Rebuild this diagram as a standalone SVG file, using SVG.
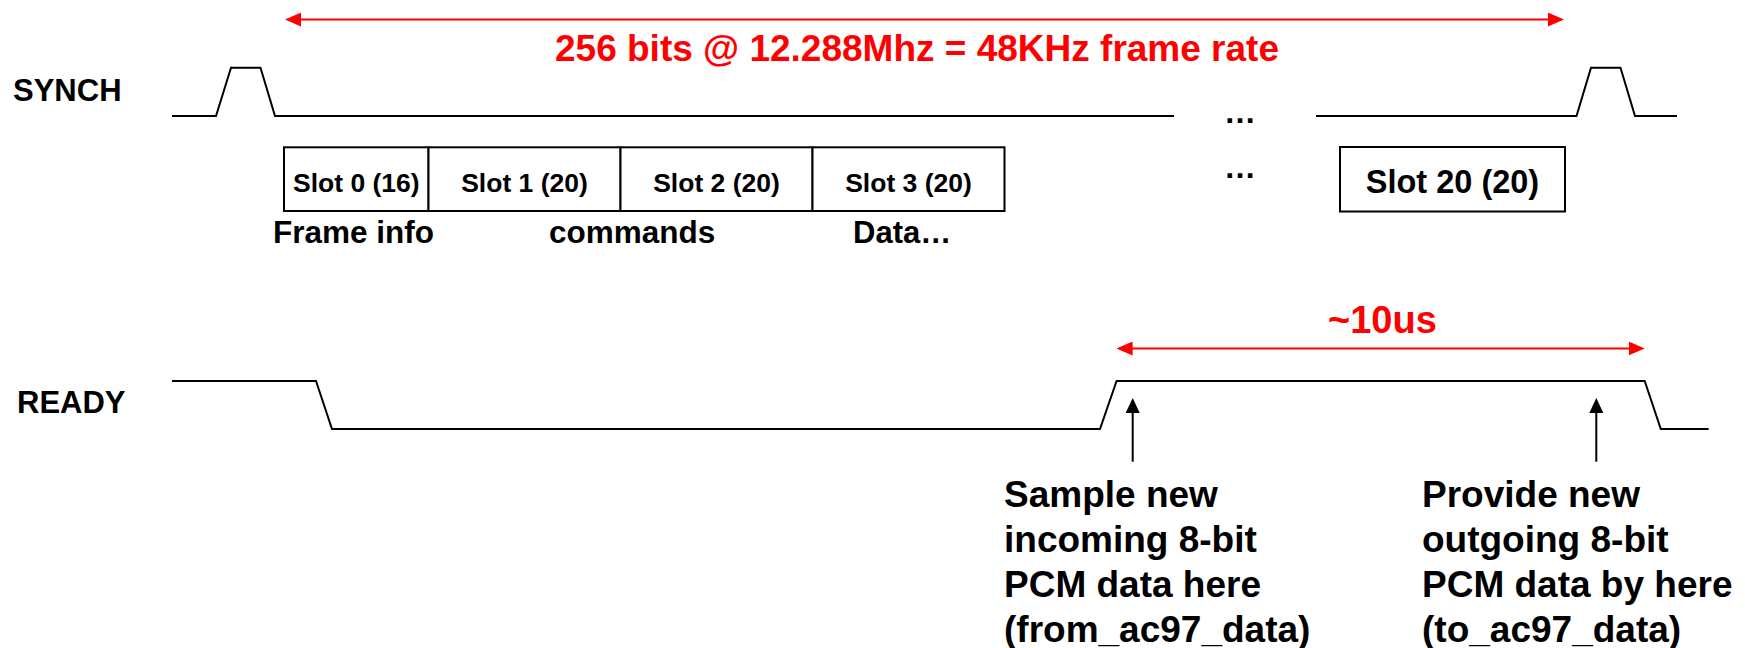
<svg xmlns="http://www.w3.org/2000/svg" width="1745" height="648" viewBox="0 0 1745 648">
<defs>
<marker id="arR" viewBox="0 0 16 14" refX="13" refY="7" markerWidth="16" markerHeight="14" markerUnits="userSpaceOnUse" orient="auto-start-reverse"><path d="M0,0 L16,7 L0,14 z" fill="#ff0000"/></marker>
<marker id="arK" viewBox="0 0 15 14" refX="12" refY="7" markerWidth="15" markerHeight="14" markerUnits="userSpaceOnUse" orient="auto"><path d="M0,0 L15,7 L0,14 z" fill="#000"/></marker>
</defs>
<style>
text{font-family:"Liberation Sans",Arial,Helvetica,sans-serif;font-weight:bold;fill:#000}
.red{fill:#ff0000}
.sig{fill:none;stroke:#000;stroke-width:2;stroke-linejoin:miter}
.box{fill:#fff;stroke:#000;stroke-width:2}
.rarrow{stroke:#ff0000;stroke-width:2;fill:none}
.karrow{stroke:#000;stroke-width:2;fill:none}
.slot{font-size:26.5px;text-anchor:middle}
.lbl{font-size:31px}
.dots{font-size:32px}
.note{font-size:37px}
</style>
<rect x="0" y="0" width="1745" height="648" fill="#fff"/>

<g id="synch-label"><text class="lbl" x="13" y="100.5">SYNCH</text></g>
<g id="ready-label"><text class="lbl" x="17" y="413">READY</text></g>

<g id="synch-signal">
<polyline class="sig" points="172,116 216,116 231,67.7 260.5,67.7 275,116 1174,116"/>
<polyline class="sig" points="1316,116 1576.5,116 1591,67.7 1620.5,67.7 1635,116 1677,116"/>
<text class="dots" x="1224" y="123">…</text>
</g>

<g id="ready-signal">
<polyline class="sig" points="172,381 316,381 332,429 1100,429 1116.6,381 1644.7,381 1660.8,429 1708.6,429"/>
</g>

<g id="slot0"><rect class="box" x="284" y="147.3" width="144.5" height="63.7"/><text class="slot" x="356.3" y="191.5">Slot 0 (16)</text></g>
<g id="slot1"><rect class="box" x="428.5" y="147.3" width="192" height="63.7"/><text class="slot" x="524.5" y="191.5">Slot 1 (20)</text></g>
<g id="slot2"><rect class="box" x="620.5" y="147.3" width="192" height="63.7"/><text class="slot" x="716.5" y="191.5">Slot 2 (20)</text></g>
<g id="slot3"><rect class="box" x="812.5" y="147.3" width="192" height="63.7"/><text class="slot" x="908.5" y="191.5">Slot 3 (20)</text></g>
<g id="slot-gap"><text class="dots" x="1224" y="178">…</text></g>
<g id="slot20"><rect class="box" x="1340" y="147" width="225" height="64.5"/><text class="slot" x="1452.5" y="192.5" style="font-size:32.5px">Slot 20 (20)</text></g>

<g id="slot-captions">
<text x="273" y="242.7" style="font-size:31.5px">Frame info</text>
<text x="549" y="242.7" style="font-size:31.5px">commands</text>
<text x="853" y="242.7" style="font-size:31px">Data…</text>
</g>

<g id="frame-rate-label"><text class="red" x="555" y="61" style="font-size:37px">256 bits @ 12.288Mhz = 48KHz frame rate</text></g>
<g id="ready-width-label"><text class="red" x="1328" y="333.3" style="font-size:38px">~10us</text></g>

<g id="sample-note">
<text class="note" x="1004" y="506.5">Sample new</text>
<text class="note" x="1004" y="551.5">incoming 8-bit</text>
<text class="note" x="1004" y="596.5">PCM data here</text>
<text class="note" x="1004" y="641.5">(from_ac97_data)</text>
</g>
<g id="provide-note">
<text class="note" x="1422" y="506.5">Provide new</text>
<text class="note" x="1422" y="551.5">outgoing 8-bit</text>
<text class="note" x="1422" y="596.5">PCM data by here</text>
<text class="note" x="1422" y="641.5">(to_ac97_data)</text>
</g>

<g id="connectors">
<line class="rarrow" x1="288" y1="19.5" x2="1561" y2="19.5" marker-start="url(#arR)" marker-end="url(#arR)"/>
<line class="rarrow" x1="1119.6" y1="348.5" x2="1641.7" y2="348.5" marker-start="url(#arR)" marker-end="url(#arR)"/>
<line class="karrow" x1="1132.7" y1="461.7" x2="1132.7" y2="401" marker-end="url(#arK)"/>
<line class="karrow" x1="1596.3" y1="461.7" x2="1596.3" y2="401" marker-end="url(#arK)"/>
</g>
</svg>
